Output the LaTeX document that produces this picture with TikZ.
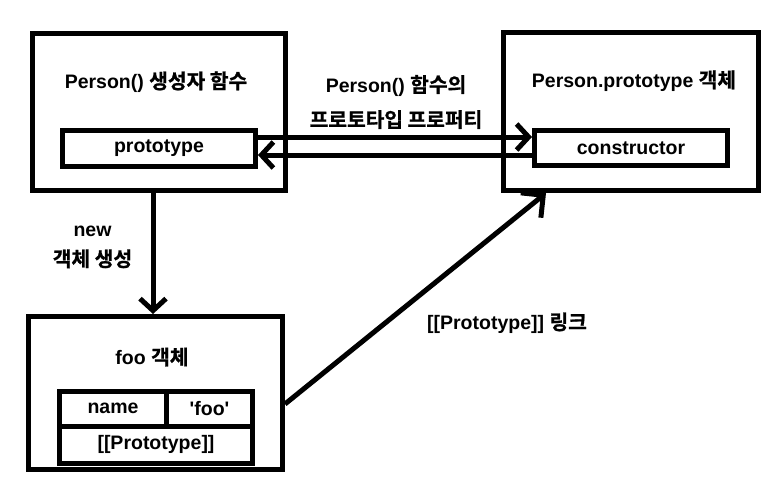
\documentclass[tikz,border=0pt]{standalone}
\usepackage{fontspec}
\setmainfont{Liberation Sans}
\newfontfamily\kr{Noto Sans CJK KR}[BoldFont={Noto Sans CJK KR Bold},BoldFeatures={FakeBold=1},Scale=1.04]
\newcommand{\ko}[1]{{\kr #1}}
\usetikzlibrary{arrows.meta}
\begin{document}
\begin{tikzpicture}[x=1pt,y=-1pt,
  font=\fontsize{19.5}{22}\selectfont\bfseries,
  box/.style={draw, rectangle, line width=5pt, inner sep=0pt},
  txt/.style={inner sep=0pt, align=center},
  arr/.style={line width=5pt, -{Straight Barb[length=12pt,width=26pt]}},
  bigarr/.style={line width=5pt, -{Straight Barb[length=16pt,width=32pt]}}]
\useasboundingbox (0,0) rectangle (781,491);
% boxes
\node[box, minimum width=253pt, minimum height=157pt] (p1) at (159,112) {};
\node[box, minimum width=255pt, minimum height=158pt] (p2) at (631,111.5) {};
\node[box, minimum width=254pt, minimum height=153pt] (foo) at (155.5,393) {};
\node[box, minimum width=193pt, minimum height=36pt] (proto) at (159,148.5) {prototype};
\node[box, minimum width=193pt, minimum height=35pt] (ctor) at (631,148) {constructor};
\node[box, minimum width=107pt, minimum height=34.5pt] (name) at (113,408.75) {name};
\node[box, minimum width=86pt, minimum height=34.5pt] (val) at (209.5,408.75) {\textquotesingle foo\textquotesingle};
\node[box, minimum width=193pt, minimum height=37.5pt] (link) at (156,444.75) {[[Prototype]]};
% titles
\node[txt] (t1) at (156,82) {Person() \ko{생성자 함수}};
\node[txt] (t2) at (634,81) {Person.prototype \ko{객체}};
\node[txt] (t3) at (152,357) {foo \ko{객체}};
\node[txt, font=\fontsize{19.5}{35}\selectfont\bfseries] (lp) at (396,102) {Person() \ko{함수의}\\\ko{프로토타입 프로퍼티}};
\node[txt, font=\fontsize{19.5}{30}\selectfont\bfseries] (ln) at (92.5,247) {new\\\ko{객체 생성}};
\node[txt] (ll) at (507,323) {[[Prototype]] \ko{링크}};
% connectors
\coordinate (u) at ([yshift=11.5pt]proto.east);
\coordinate (w) at ([yshift=-7pt]ctor.west);
\draw[arr] (u) -- (u -| ctor.west);
\draw[arr] (w) -- (w -| proto.east);
\coordinate (dn) at (153,250);
\draw[arr] (dn |- p1.south) -- (dn |- foo.north);
\coordinate (ds) at (foo.east |- 0,404);
\coordinate (de) at (p2.south -| 546,0);
\draw[bigarr] (ds) -- (de);
\end{tikzpicture}
\end{document}
